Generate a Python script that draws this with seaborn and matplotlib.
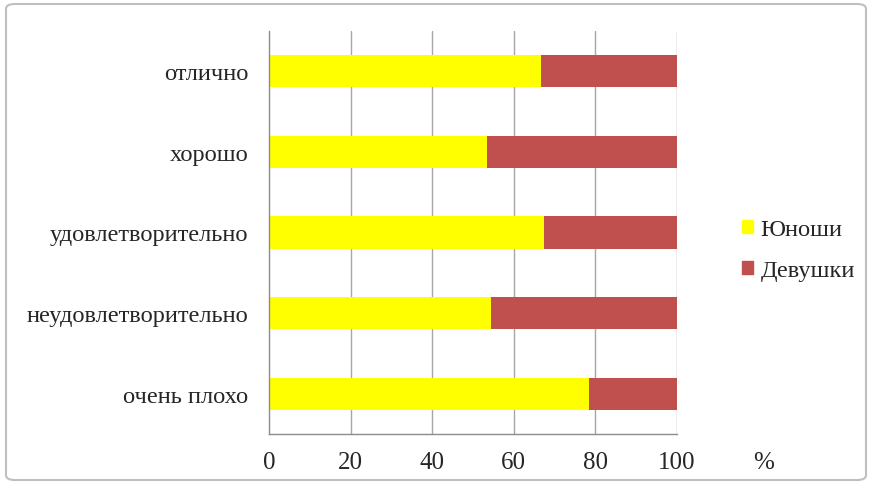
import pandas as pd
import matplotlib.pyplot as plt
import seaborn as sns
import numpy as np
from matplotlib.patches import FancyBboxPatch, Patch

# данные (в процентах)
categories = ['отлично', 'хорошо', 'удовлетворительно', 'неудовлетворительно', 'очень плохо']
boys = [66.6, 53.4, 67.4, 54.3, 78.5]
girls = [33.4, 46.6, 32.6, 45.7, 21.5]
xticks = [0, 20, 40, 60, 80, 100]

df = pd.DataFrame({'cat': categories, 'boys': boys, 'girls': girls})
df['total'] = df['boys'] + df['girls']

sns.set_style('white')
plt.rcParams['font.family'] = ['Liberation Serif', 'DejaVu Serif']

fig = plt.figure(figsize=(8.71, 4.85), dpi=100)
ax = fig.add_axes([269/871, 1 - 435/485, 408/871, 403/485])

yellow = '#ffff00'
red = '#c0504d'

sns.barplot(data=df, x='total', y='cat', orient='h', color=red, width=0.4,
            saturation=1, ax=ax, linewidth=0)
sns.barplot(data=df, x='boys', y='cat', orient='h', color=yellow, width=0.4,
            saturation=1, ax=ax, linewidth=0)

ax.set_xlim(0, 100)
ax.set_ylim(4.5, -0.5)
ax.set_xticks(xticks)
ax.set_xticklabels([str(t) for t in xticks], fontsize=18)
ax.set_xlabel('')
ax.set_ylabel('')

# подписи категорий без засечек, засечки между категориями
ax.set_yticks(range(len(categories)))
ax.set_yticklabels(categories, fontsize=17.6)
ax.tick_params(axis='y', length=0, pad=15)
ax.set_yticks(np.arange(-0.5, len(categories), 1), minor=True)
ax.tick_params(axis='y', which='minor', length=5, color='#8c8c8c', width=1)
ax.tick_params(axis='x', length=5, color='#8c8c8c', width=1, pad=7)

for x in xticks[1:]:
    ax.axvline(x, color='#a6a6a6', lw=1, zorder=0)
for s in ['top', 'right']:
    ax.spines[s].set_visible(False)
for s in ['left', 'bottom']:
    ax.spines[s].set_color('#8c8c8c')
    ax.spines[s].set_linewidth(1)

fig.text(764/871, 1 - 463/485, '%', fontsize=18, ha='center', va='center')

handles = [Patch(color=yellow, label='Юноши'), Patch(color=red, label='Девушки')]
fig.legend(handles=handles, loc='center left', bbox_to_anchor=(720/871, 1 - 251/485),
           frameon=False, fontsize=17.6, handlelength=0.45, handleheight=0.45,
           handletextpad=0.3, labelspacing=0.8)

border = FancyBboxPatch((6/871, 4/485), 860/871, 476/485, transform=fig.transFigure,
                        boxstyle='round,pad=0,rounding_size=0.01', fill=False,
                        edgecolor='#bfbfbf', lw=1.5)
fig.patches.append(border)

plt.savefig('out.png', dpi=100)
